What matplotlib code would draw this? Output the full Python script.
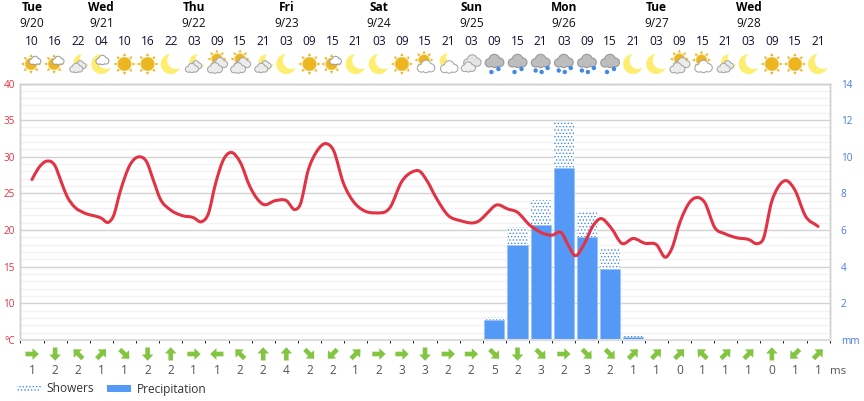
# meteogram: temperature line, rain bars, weather icons and wind arrows
import numpy as np
import matplotlib
matplotlib.use('Agg')
import matplotlib.pyplot as plt
from matplotlib.path import Path
from matplotlib.patches import Circle, PathPatch, Polygon, Patch

plt.rcParams['font.family'] = ['Open Sans', 'DejaVu Sans']
plt.rcParams['hatch.linewidth'] = 0.6

# ── data ────────────────────────────────────────────────────
hours = ['10', '16', '22', '04', '10', '16', '22', '03', '09', '15', '21', '03',
         '09', '15', '21', '03', '09', '15', '21', '03', '09', '15', '21', '03',
         '09', '15', '21', '03', '09', '15', '21', '03', '09', '15', '21']
day_slots = [0, 3, 7, 11, 15, 19, 23, 27, 31]
day_names = ['Tue', 'Wed', 'Thu', 'Fri', 'Sat', 'Sun', 'Mon', 'Tue', 'Wed']
day_dates = ['9/20', '9/21', '9/22', '9/23', '9/24', '9/25', '9/26', '9/27', '9/28']

icons = ['sun_small', 'sun_small', 'moon_clouds', 'moon_small', 'sun', 'sun', 'moon',
         'moon_clouds', 'sun_clouds', 'sun_clouds', 'moon_clouds', 'moon', 'sun',
         'sun_small', 'moon', 'moon', 'sun', 'sun_cloud', 'moon_cloud', 'overcast',
         'rain2', 'rain2', 'rain3', 'rain3', 'rain3', 'rain2', 'moon', 'moon',
         'sun_clouds', 'sun_cloud', 'moon_clouds', 'moon', 'sun', 'sun', 'moon']

# curve: position in slots, temperature
temp_pos = [0, .27, .63, 1.0, 1.24, 1.5, 1.86, 2.22, 3.01, 3.3, 3.52, 3.81, 4.24, 4.64,
            4.96, 5.25, 5.54, 5.97, 6.47, 6.98, 7.34, 7.63, 7.92, 8.28, 8.61, 9.0, 9.43,
            10.01, 10.51, 11.01, 11.38, 11.59, 11.95, 12.31, 12.72, 13.03, 13.47, 13.9,
            14.33, 14.83, 15.49, 15.99, 16.42, 16.78, 17.07, 17.5, 18.0, 18.51, 19.38,
            19.67, 20.07, 20.6, 20.96, 21.54, 22.48, 22.91, 23.2, 23.49, 23.85, 24.28,
            24.57, 25.07, 25.5, 26.01, 26.51, 27.01, 27.42, 27.67, 28.03, 28.46, 28.79,
            29.08, 29.54, 29.97, 30.48, 31.01, 31.37, 31.63, 31.99, 32.28, 32.61, 33.0,
            33.44, 34.0]
temp_vals = [26.9, 28.4, 29.4, 28.75, 26.8, 24.7, 23.1, 22.4, 21.6, 21.05, 21.9, 25.2,
             28.9, 30.0, 29.3, 26.8, 24.3, 22.8, 22.0, 21.7, 21.15, 22.25, 26.1, 29.6,
             30.6, 29.3, 25.9, 23.5, 24.0, 24.0, 22.8, 23.4, 28.2, 30.7, 31.8, 30.95,
             26.4, 23.9, 22.7, 22.35, 23.1, 26.6, 27.9, 28.0, 26.8, 24.3, 22.0, 21.3,
             21.35, 22.25, 23.4, 22.85, 22.5, 20.65, 19.3, 19.6, 17.9, 16.5, 17.9, 20.65,
             21.55, 20.2, 18.2, 18.85, 18.2, 18.0, 16.3, 17.45, 21.1, 23.85, 24.45, 23.85,
             20.3, 19.5, 18.95, 18.7, 18.15, 18.8, 23.85, 25.9, 26.75, 25.45, 22.0, 20.5]

rain_slots = [20, 21, 22, 23, 24, 25, 26]
precip = [1.1, 5.2, 6.3, 9.4, 5.6, 3.9, 0.15]
showers = [1.25, 6.15, 7.65, 11.9, 7.05, 4.95, 0.2]

wind_speed = [1, 2, 2, 1, 1, 2, 2, 1, 1, 2, 2, 4, 2, 2, 1, 2, 3, 3,
              2, 2, 5, 2, 3, 2, 3, 2, 1, 1, 0, 1, 1, 1, 0, 1, 1]
# direction the arrow points to, degrees counter-clockwise from east
wind_dir = [0, 270, 135, 45, 315, 270, 90, 0, 180, 135, 90, 90, 315, 225, 45, 0, 0, 270,
            0, 0, 315, 270, 315, 0, 315, 315, 45, 45, 45, 135, 45, 45, 90, 225, 45]

temp_ticks = [10, 15, 20, 25, 30, 35, 40]
mm_ticks = [2, 4, 6, 8, 10, 12, 14]

RED = '#e23345'
BLUE = '#5599f7'
SUN = '#edb620'
MOON = '#fdee70'
GREEN = '#83c441'
W, H = 864, 401
X0, DX = 32.0, 23.12      # pixel position of slot 0, slot width

# ── axes ────────────────────────────────────────────────────
fig = plt.figure(figsize=(W / 100, H / 100), dpi=100)
rect = [20.44 / W, (H - 340) / H, 809.2 / W, 256.5 / H]
ax_t = fig.add_axes(rect)
ax_mm = ax_t.twinx()
ax_t.set_zorder(3)
ax_mm.set_zorder(2)
ax_t.patch.set_visible(False)

ax_t.set_xlim(-0.5, 34.5)
ax_t.set_ylim(5, 40)
ax_mm.set_ylim(0, 14)

# grid lives on the lower axis so that the bars cover it
ax_mm.set_axisbelow(True)
ax_mm.set_xticks(np.arange(-0.5, 34.6, 1), minor=True)
ax_mm.set_yticks(np.arange(0, 14.01, 0.4), minor=True)
ax_mm.grid(which='minor', color='#f2f2f2', lw=1.0)
ax_mm.set_xticks(np.arange(3.5, 34, 4))
ax_mm.set_yticks([0] + mm_ticks)
ax_mm.set_yticklabels(['mm'] + [str(v) for v in mm_ticks])
ax_mm.grid(which='major', axis='y', color='#d2d2d2', lw=1.0)
ax_mm.grid(which='major', axis='x', color='#d6d6d6', lw=1.2)
ax_mm.tick_params(which='both', length=0)
ax_mm.tick_params(axis='x', labelbottom=False)
ax_mm.tick_params(axis='y', labelsize=7.2, labelcolor='#4a78e8', pad=8)

ax_t.set_xticks([])
ax_t.set_yticks([5] + temp_ticks)
ax_t.set_yticklabels(['°C'] + [str(v) for v in temp_ticks])
ax_t.tick_params(axis='y', length=0, labelsize=7.2, labelcolor=RED, pad=4)

for a in (ax_t, ax_mm):
    for s in a.spines.values():
        s.set_color('#d0d0d0')
        s.set_linewidth(1.0)
    a.spines['bottom'].set_color('#dddddd')
    a.spines['bottom'].set_linewidth(1.5)

# ── bars ────────────────────────────────────────────────────
ax_mm.bar(rain_slots, showers, width=0.87, facecolor='white', edgecolor='#3f88ee',
          hatch='.....', lw=0, zorder=2)
ax_mm.bar(rain_slots, precip, width=0.87, color=BLUE, edgecolor='#9cc4fa', lw=0.6, zorder=3)

# ── temperature line, smooth through the read points ────────
px = np.array(temp_pos)
py = np.array(temp_vals)
slope = np.gradient(py, px)
verts = [(px[0], py[0])]
codes = [Path.MOVETO]
for i in range(len(px) - 1):
    d = (px[i + 1] - px[i]) / 3
    verts += [(px[i] + d, py[i] + slope[i] * d),
              (px[i + 1] - d, py[i + 1] - slope[i + 1] * d),
              (px[i + 1], py[i + 1])]
    codes += [Path.CURVE4] * 3
ax_t.add_patch(PathPatch(Path(verts, codes), fill=False, edgecolor=RED, lw=2.2,
                         capstyle='round', joinstyle='round'))

# ── overlay in pixel coordinates for header, icons and wind ─
ov = fig.add_axes([0, 0, 1, 1], zorder=5)
ov.set_xlim(0, W)
ov.set_ylim(H, 0)
ov.axis('off')


def slot_x(i):
    return X0 + DX * i


def sun(x, y, r=6.5):
    for a in np.arange(0, 360, 45):
        t = np.radians(a)
        n = np.array([np.cos(t), np.sin(t)])
        p = np.array([-n[1], n[0]])
        c = np.array([x, y])
        ov.add_patch(Polygon([c + n * (r + 4.5), c + n * (r + 1.5) + p * 1.6, c + n * (r + 1.5) - p * 1.6],
                             color=SUN, lw=0))
    ov.add_patch(Circle((x, y), r + 0.8, color='#f3d67c', lw=0))
    ov.add_patch(Circle((x, y), r, color=SUN, lw=0))


def moon(x, y, r=10.0):
    ov.add_patch(Circle((x, y), r, color=MOON, lw=0))
    ov.add_patch(Circle((x + 5, y - 3.5), r - 1.5, color='white', lw=0))


def cloud(x, y, s=1.0, fill='#ececec', edge='#a8a8a8'):
    puffs = [(-5.5, 2, 4), (0, -1.5, 5.2), (5.5, 1.5, 4.2), (0, 3, 3.6)]
    for dx, dy, r in puffs:
        ov.add_patch(Circle((x + dx * s, y + dy * s), r * s + 1.1, color=edge, lw=0))
    for dx, dy, r in puffs:
        ov.add_patch(Circle((x + dx * s, y + dy * s), r * s, color=fill, lw=0))


def rain_cloud(x, y, n):
    cloud(x, y - 3, 0.92, fill='#bdbdbd', edge='#999999')
    drops = [(-5, 6.5), (1, 8), (7, 4)] if n == 3 else [(-3, 8), (4, 5)]
    for dx, dy in drops:
        ov.add_patch(Circle((x + dx, y + dy), 2.2, color='#3f8ae8', lw=0))


def draw_icon(kind, x, y):
    if kind == 'sun':
        sun(x, y)
    elif kind == 'moon':
        moon(x, y)
    elif kind == 'sun_small':
        sun(x - 1, y, 5.5)
        cloud(x + 3, y - 3.5, 0.55, fill='white', edge='#a0a0a0')
    elif kind == 'moon_small':
        moon(x, y)
        cloud(x + 1, y - 4, 0.62, fill='white', edge='#a0a0a0')
    elif kind == 'sun_clouds':
        sun(x, y - 5, 5)
        cloud(x + 3, y - 1, 0.72)
        cloud(x - 2, y + 4, 0.72)
    elif kind == 'moon_clouds':
        moon(x + 3, y - 2, 7.5)
        cloud(x + 2, y + 1, 0.55)
        cloud(x - 2, y + 4, 0.62)
    elif kind == 'sun_cloud':
        sun(x - 1, y - 4, 5)
        cloud(x + 1, y + 2.5, 0.85, fill='white', edge='#a8a8a8')
    elif kind == 'moon_cloud':
        moon(x - 1, y - 3, 7.5)
        cloud(x + 1, y + 3, 0.85, fill='white', edge='#a8a8a8')
    elif kind == 'overcast':
        cloud(x + 1, y - 3, 0.85, fill='#e4e4e4')
        cloud(x - 3, y + 3, 0.68, fill='#f0f0f0')
    elif kind == 'rain2':
        rain_cloud(x, y, 2)
    elif kind == 'rain3':
        rain_cloud(x, y, 3)


def wind_arrow(x, y, deg):
    shape = np.array([[-6.5, -2.3], [0.5, -2.3], [0.5, -5.8], [6.8, 0],
                      [0.5, 5.8], [0.5, 2.3], [-6.5, 2.3]])
    t = np.radians(deg)
    # pixel y runs downward
    rot = np.array([[np.cos(t), np.sin(t)], [-np.sin(t), np.cos(t)]])
    pts = shape @ rot.T + [x, y]
    ov.add_patch(Polygon(pts, color=GREEN, lw=0))


TXT = 8.6
for s, name, date in zip(day_slots, day_names, day_dates):
    ov.text(slot_x(s), 7.5, name, ha='center', va='center', fontsize=TXT, fontweight='bold', color='black')
    ov.text(slot_x(s), 23.5, date, ha='center', va='center', fontsize=TXT, color='#111111')

for i, h in enumerate(hours):
    ov.text(slot_x(i), 41.5, h, ha='center', va='center', fontsize=TXT, color='#111133')
    draw_icon(icons[i], slot_x(i), 64)
    wind_arrow(slot_x(i), 354, wind_dir[i])
    ov.text(slot_x(i), 371, str(wind_speed[i]), ha='center', va='center', fontsize=TXT, color='#555555')

ov.text(838, 371.5, 'ms', ha='center', va='center', fontsize=TXT - 0.4, color='#555555')

# ── legend ──────────────────────────────────────────────────
handles = [Patch(facecolor='white', edgecolor='#3f88ee', hatch='.....', lw=0, label='Showers'),
           Patch(facecolor=BLUE, lw=0, label='Precipitation')]
fig.legend(handles=handles, loc='center left', bbox_to_anchor=(17 / W, (H - 389) / H), ncol=2,
           frameon=False, fontsize=TXT, labelcolor='#333333', handlelength=2.0, handleheight=0.55,
           handletextpad=0.5, columnspacing=1.05, borderpad=0, borderaxespad=0)

fig.savefig('out.png', dpi=100)
